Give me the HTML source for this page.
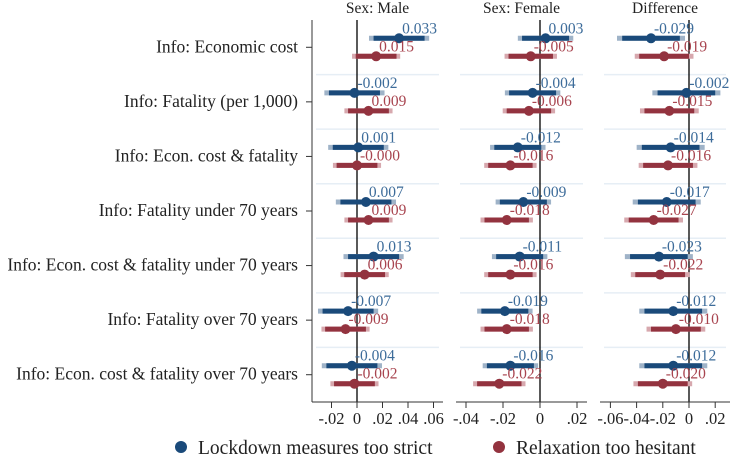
<!DOCTYPE html>
<html><head><meta charset="utf-8"><style>
html,body{margin:0;padding:0;background:#fff;width:732px;height:472px;overflow:hidden}
svg text{font-family:"Liberation Serif",serif}
</style></head><body>
<svg id="chart" width="732" height="472" viewBox="0 0 732 472"></svg>
<script>
const categories=["Info: Economic cost","Info: Fatality (per 1,000)","Info: Econ. cost & fatality","Info: Fatality under 70 years","Info: Econ. cost & fatality under 70 years","Info: Fatality over 70 years","Info: Econ. cost & fatality over 70 years"];
const panelTitles=["Sex: Male","Sex: Female","Difference"];
const maleLockdown=[0.033,-0.002,0.001,0.007,0.013,-0.007,-0.004];
const maleRelax=[0.015,0.009,-0.000,0.009,0.006,-0.009,-0.002];
const femaleLockdown=[0.003,-0.004,-0.012,-0.009,-0.011,-0.019,-0.016];
const femaleRelax=[-0.005,-0.006,-0.016,-0.018,-0.016,-0.018,-0.022];
const diffLockdown=[-0.029,-0.002,-0.014,-0.017,-0.023,-0.012,-0.012];
const diffRelax=[-0.019,-0.015,-0.016,-0.027,-0.022,-0.010,-0.020];
const maleLabelsL=["0.033","-0.002","0.001","0.007","0.013","-0.007","-0.004"];
const maleLabelsR=["0.015","0.009","-0.000","0.009","0.006","-0.009","-0.002"];
const femaleLabelsL=["0.003","-0.004","-0.012","-0.009","-0.011","-0.019","-0.016"];
const femaleLabelsR=["-0.005","-0.006","-0.016","-0.018","-0.016","-0.018","-0.022"];
const diffLabelsL=["-0.029","-0.002","-0.014","-0.017","-0.023","-0.012","-0.012"];
const diffLabelsR=["-0.019","-0.015","-0.016","-0.027","-0.022","-0.010","-0.020"];
const ciHalfLockdown=[0.020,0.0127,0.022];
const ciHalfRelax=[0.016,0.012,0.019];
const ticksMale=[-0.02,0,0.02,0.04,0.06];
const tickLabelsMale=["-.02","0",".02",".04",".06"];
const ticksFemale=[-0.04,-0.02,0,0.02];
const tickLabelsFemale=["-.04","-.02","0",".02"];
const ticksDiff=[-0.06,-0.04,-0.02,0,0.02];
const tickLabelsDiff=["-.06","-.04","-.02","0",".02"];

const svg=document.getElementById('chart');
const NS='http://www.w3.org/2000/svg';
function mk(tag,attrs,parent){const e=document.createElementNS(NS,tag);for(const k in attrs)e.setAttribute(k,attrs[k]);(parent||svg).appendChild(e);return e;}
const plotTop=20,plotBottom=402,rowH=(plotBottom-plotTop)/7;
const yRow=i=>plotTop+rowH*(i+0.5);
const panels=[
 {x0:312,x1:443,z:357,s:25.5/0.02,L:maleLockdown,R:maleRelax,LL:maleLabelsL,LR:maleLabelsR,t:ticksMale,tl:tickLabelsMale},
 {x0:456,x1:587,z:540,s:37/0.02,L:femaleLockdown,R:femaleRelax,LL:femaleLabelsL,LR:femaleLabelsR,t:ticksFemale,tl:tickLabelsFemale},
 {x0:600,x1:730,z:689,s:26.2/0.02,L:diffLockdown,R:diffRelax,LL:diffLabelsL,LR:diffLabelsR,t:ticksDiff,tl:tickLabelsDiff}
];
const blue='#1a4a7a',red='#93333f',blueT='#3d6c9a',redT='#a8444f';
categories.forEach((c,i)=>{
 const t=mk('text',{x:298,y:yRow(i)+5,'text-anchor':'end','font-size':'17.5',fill:'#222'});
 t.textContent=c;
 
 
 const tk=mk('line',{x1:306,x2:312,y1:yRow(i),y2:yRow(i),stroke:'#333','stroke-width':1});
 
 
});
const ya=mk('line',{x1:312,x2:312,y1:plotTop,y2:plotBottom,stroke:'#333','stroke-width':1});


panels.forEach((p,pi)=>{
 const X=v=>p.z+v*p.s;
 const g=mk('g',{});
 
 
 const tt=mk('text',{x:(p.x0+p.x1)/2,y:13,'text-anchor':'middle','font-size':'15.5',fill:'#222'},g);
 tt.textContent=panelTitles[pi];
 
 
 for(let i=1;i<7;i++){const y=plotTop+rowH*i;const gl=mk('line',{x1:p.x0+4,x2:p.x1-4,y1:y,y2:y,stroke:'#e6eef5','stroke-width':1.5},g);
  
  }
 const zl=mk('line',{x1:p.z,x2:p.z,y1:plotTop,y2:plotBottom,stroke:'#000','stroke-width':1.3},g);
 
 
 const xa=mk('line',{x1:p.x0,x2:p.x1,y1:plotBottom,y2:plotBottom,stroke:'#333','stroke-width':1},g);
 
 
 p.t.forEach((v,k)=>{
  const tk=mk('line',{x1:X(v),x2:X(v),y1:plotBottom,y2:plotBottom+6,stroke:'#333','stroke-width':1},g);
  
  
  const tl=mk('text',{x:X(v),y:plotBottom+22,'text-anchor':'middle','font-size':'16.5',fill:'#222'},g);
  tl.textContent=p.tl[k];
  
  
 });
 [[p.L,p.LL,-9,blue,blueT,'#9fb3c8',ciHalfLockdown[pi],'lockdown'],[p.R,p.LR,9,red,redT,'#d7a8ae',ciHalfRelax[pi],'relaxation']].forEach(([vals,labs,dy,col,tcol,lcol,h,nm])=>{
  vals.forEach((v,i)=>{
   const y=yRow(i)+dy;
   const l1=mk('line',{x1:X(v-h*1.18),x2:X(v+h*1.18),y1:y,y2:y,stroke:lcol,'stroke-width':5},g);
   
   
   const l2=mk('line',{x1:X(v-h),x2:X(v+h),y1:y,y2:y,stroke:col,'stroke-width':5},g);
   
   
   const c=mk('circle',{cx:X(v),cy:y,r:5,fill:col},g);
   
   
   const t=mk('text',{x:X(v)+3,y:y-5,'font-size':'15.5',fill:tcol},g);
   t.textContent=labs[i];
   
   
  });
 });
});
const lg=mk('g',{});


const d1=mk('circle',{cx:181,cy:447,r:6,fill:blue},lg);


const t1=mk('text',{x:198,y:454,'font-size':'19.5',fill:'#222'},lg);
t1.textContent='Lockdown measures too strict';


const d2=mk('circle',{cx:499,cy:447,r:6,fill:red},lg);


const t2=mk('text',{x:516,y:454,'font-size':'19.5',fill:'#222'},lg);
t2.textContent='Relaxation too hesitant';


</script>
</body></html>
